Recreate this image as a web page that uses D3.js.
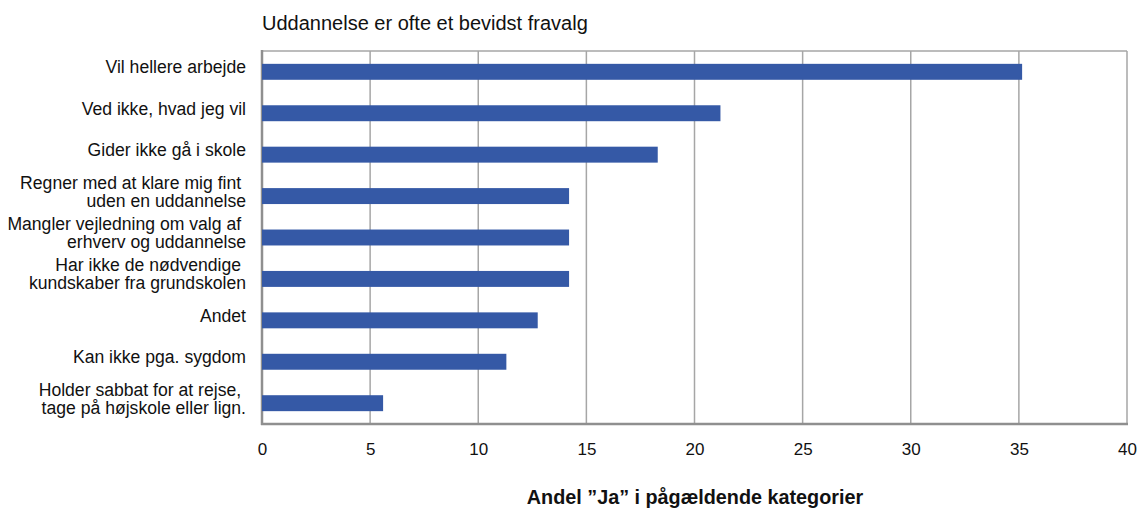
<!DOCTYPE html>
<html><head><meta charset="utf-8">
<script src="https://cdn.jsdelivr.net/npm/d3@7"></script>
<style>body{margin:0;background:#fff}svg{display:block}text{font-family:"Liberation Sans",Arial,sans-serif;fill:#111}</style>
</head><body>
<script>
const categories = [
  ["Vil hellere arbejde"],
  ["Ved ikke, hvad jeg vil"],
  ["Gider ikke gå i skole"],
  ["Regner med at klare mig fint\u00a0", "uden en uddannelse"],
  ["Mangler vejledning om valg af\u00a0", "erhverv og uddannelse"],
  ["Har ikke de nødvendige\u00a0", "kundskaber fra grundskolen"],
  ["Andet"],
  ["Kan ikke pga. sygdom"],
  ["Holder sabbat for at rejse,\u00a0", "tage på højskole eller lign."]
];
const values = [35.15, 21.2, 18.3, 14.2, 14.2, 14.2, 12.75, 11.3, 5.6];
const xTicks = [0, 5, 10, 15, 20, 25, 30, 35, 40];
const title = "Uddannelse er ofte et bevidst fravalg";
const xTitle = "Andel \u201dJa\u201d i pågældende kategorier";

const W = 1137, H = 510;
const m = {left: 262, right: 1127, top: 51, bottom: 424};
const svg = d3.select("body").append("svg").attr("width", W).attr("height", H);

const x = d3.scaleLinear().domain([0, 40]).range([m.left, m.right]);
const y = d3.scaleBand().domain(d3.range(categories.length)).range([m.top, m.bottom]).paddingInner(0.615).paddingOuter(0.31);

// grid
svg.append("g").selectAll("line").data(xTicks).join("line")
  .attr("x1", d => x(d)).attr("x2", d => x(d)).attr("y1", m.top).attr("y2", m.bottom)
  .attr("stroke", "#a6a6a6").attr("stroke-width", 1.5);
svg.append("line").attr("x1", m.left).attr("x2", m.right).attr("y1", m.top).attr("y2", m.top)
  .attr("stroke", "#a6a6a6").attr("stroke-width", 1.5);
// axes frame
svg.append("line").attr("x1", m.left).attr("x2", m.left).attr("y1", m.top - 1).attr("y2", m.bottom + 1)
  .attr("stroke", "#8f8f8f").attr("stroke-width", 2.5);
svg.append("line").attr("x1", m.left - 1).attr("x2", m.right + 1).attr("y1", m.bottom).attr("y2", m.bottom)
  .attr("stroke", "#8f8f8f").attr("stroke-width", 2.5);

// bars
svg.append("g").selectAll("rect").data(values).join("rect")
  .attr("x", x(0)).attr("y", (d, i) => y(i))
  .attr("width", d => x(d) - x(0)).attr("height", y.bandwidth())
  .attr("fill", "#3559a6");

// x axis labels via d3 axis
const xa = svg.append("g").attr("transform", `translate(0,${m.bottom})`)
  .call(d3.axisBottom(x).tickValues(xTicks).tickSize(0).tickPadding(19).tickFormat(d3.format("d")));
xa.select(".domain").remove();
xa.selectAll("text").attr("font-size", 17).style("font-family", '"Liberation Sans",Arial,sans-serif').attr("fill", "#111");

// category labels
const lab = svg.append("g").selectAll("text").data(categories).join("text")
  .attr("text-anchor", "end").attr("font-size", 17.6)
  .attr("x", 246)
  .attr("y", (d, i) => y(i) + y.bandwidth() / 2);
lab.each(function(d) {
  const t = d3.select(this);
  const lh = 18;
  const off = -(d.length - 1) * lh / 2 + 1.5;
  d.forEach((s, k) => {
    t.append("tspan").attr("x", 246).attr("dy", k === 0 ? off : lh).text(s);
  });
});

svg.append("text").attr("x", 262).attr("y", 30).attr("font-size", 20).text(title);
svg.append("text").attr("x", 695).attr("y", 504).attr("text-anchor", "middle")
  .attr("font-size", 19.8).attr("font-weight", "bold").text(xTitle);
</script>
</body></html>
